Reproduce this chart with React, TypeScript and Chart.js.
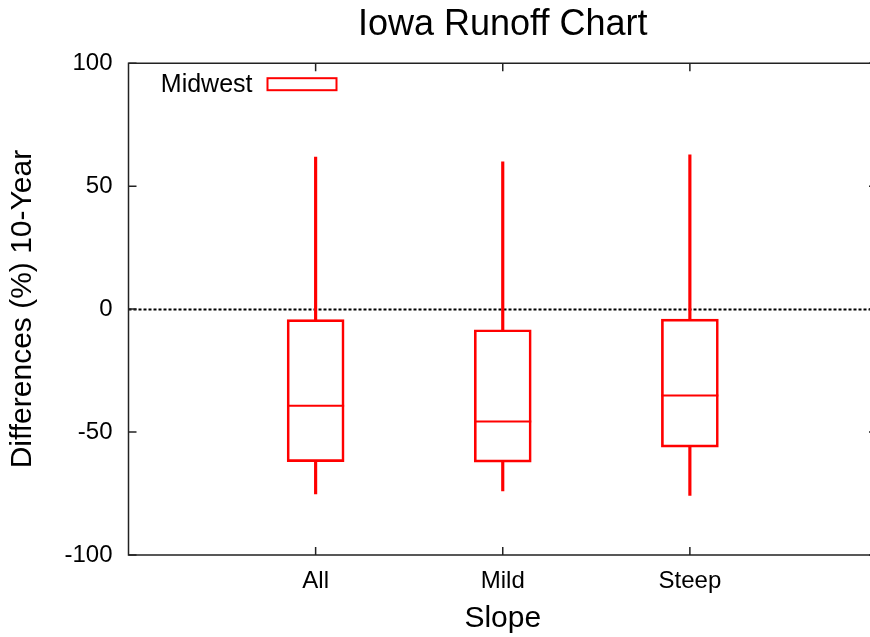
import React, { useEffect, useRef } from "react";
import { Chart, registerables } from "chart.js";

Chart.register(...registerables);

const TITLE = "Iowa Runoff Chart";
const X_TITLE = "Slope";
const Y_TITLE = "Differences (%) 10-Year";
const SERIES_NAME = "Midwest";
const CATEGORIES = ["All", "Mild", "Steep"];
const POSITIONS = [1, 2, 3];
const WHISKER_MIN = [-75.2, -73.9, -75.8];
const Q1 = [-62.0, -62.2, -56.1];
const MEDIAN = [-39.3, -45.7, -35.1];
const Q3 = [-4.3, -8.4, -4.1];
const WHISKER_MAX = [61.8, 59.9, 62.7];
const Y_MIN = -100;
const Y_MAX = 100;
const Y_STEP = 50;
const X_MIN = 0;
const X_MAX = 4;
const REFERENCE_LINE = 0;

const RED = "#ff0000";
const FONT = "'Liberation Sans', Arial, Helvetica, sans-serif";

const boxPlugin = {
  id: "boxExtras",
  beforeDatasetsDraw(chart: any) {
    const { ctx, chartArea, scales } = chart;
    const y = Math.round(scales.y.getPixelForValue(REFERENCE_LINE)) + 0.5;
    ctx.save();
    ctx.strokeStyle = "#000";
    ctx.lineWidth = 2;
    ctx.setLineDash([3, 2]);
    ctx.beginPath();
    ctx.moveTo(chartArea.left, y);
    ctx.lineTo(chartArea.right, y);
    ctx.stroke();
    ctx.restore();
  },
  afterDatasetsDraw(chart: any) {
    const { ctx, scales } = chart;
    const boxMeta = chart.getDatasetMeta(2);
    ctx.save();
    ctx.strokeStyle = RED;
    ctx.lineWidth = 2;
    MEDIAN.forEach((m, i) => {
      const el = boxMeta.data[i];
      const w = el ? el.width : 56;
      const cx = scales.x.getPixelForValue(POSITIONS[i]);
      const py = scales.y.getPixelForValue(m);
      ctx.beginPath();
      ctx.moveTo(cx - w / 2, py);
      ctx.lineTo(cx + w / 2, py);
      ctx.stroke();
    });
    ctx.restore();
  },
  afterDraw(chart: any) {
    const { ctx, chartArea, scales } = chart;
    const { left, right, top, bottom } = chartArea;
    ctx.save();
    ctx.strokeStyle = "#222";
    ctx.lineWidth = 1.5;
    ctx.beginPath();
    ctx.rect(left, top, right - left, bottom - top);
    ctx.stroke();
    // inward ticks
    const tl = 8;
    ctx.beginPath();
    scales.y.ticks.forEach((t: any) => {
      const py = scales.y.getPixelForValue(t.value);
      ctx.moveTo(left, py);
      ctx.lineTo(left + tl, py);
      ctx.moveTo(right, py);
      ctx.lineTo(right - tl, py);
    });
    POSITIONS.forEach((p) => {
      const px = scales.x.getPixelForValue(p);
      ctx.moveTo(px, bottom);
      ctx.lineTo(px, bottom - tl);
      ctx.moveTo(px, top);
      ctx.lineTo(px, top + tl);
    });
    ctx.stroke();

    // legend
    ctx.font = `25px ${FONT}`;
    ctx.fillStyle = "#000";
    ctx.textAlign = "right";
    ctx.textBaseline = "middle";
    ctx.fillText(SERIES_NAME, left + 124, top + 22);
    ctx.strokeStyle = RED;
    ctx.lineWidth = 2;
    ctx.strokeRect(left + 139, top + 15, 69, 12);
    ctx.restore();
  },
};

export default function App() {
  const ref = useRef<HTMLCanvasElement | null>(null);

  useEffect(() => {
    const canvas = ref.current;
    if (!canvas) return;
    const chart = new Chart(canvas, {
      type: "bar",
      data: {
        datasets: [
          {
            label: "upper whisker",
            data: POSITIONS.map((x, i) => ({ x, y: [Q3[i], WHISKER_MAX[i]] })) as any,
            backgroundColor: RED,
            borderWidth: 0,
            barThickness: 2.5,
            grouped: false,
          } as any,
          {
            label: "lower whisker",
            data: POSITIONS.map((x, i) => ({ x, y: [WHISKER_MIN[i], Q1[i]] })) as any,
            backgroundColor: RED,
            borderWidth: 0,
            barThickness: 2.5,
            grouped: false,
          } as any,
          {
            label: SERIES_NAME,
            data: POSITIONS.map((x, i) => ({ x, y: [Q1[i], Q3[i]] })) as any,
            backgroundColor: "rgba(0,0,0,0)",
            borderColor: RED,
            borderWidth: 2,
            borderSkipped: false,
            barThickness: 57,
            grouped: false,
          } as any,
        ],
      },
      options: {
        animation: false,
        responsive: false,
        devicePixelRatio: 1,
        layout: { padding: { left: 0, right: 4, top: 0, bottom: 0 } },
        plugins: {
          legend: { display: false },
          tooltip: { enabled: false },
          title: {
            display: true,
            text: TITLE,
            fullSize: false,
            color: "#000",
            font: { family: FONT, size: 36, weight: "normal" },
            padding: { top: 3, bottom: 17 },
          },
        },
        scales: {
          x: {
            type: "linear",
            min: X_MIN,
            max: X_MAX,
            offset: false,
            grid: { display: false, drawTicks: false, offset: false },
            border: { display: false },
            ticks: {
              stepSize: 1,
              autoSkip: false,
              maxRotation: 0,
              padding: 12,
              color: "#000",
              font: { family: FONT, size: 24 },
              callback: (v: any) => {
                const i = POSITIONS.indexOf(Number(v));
                return i >= 0 ? CATEGORIES[i] : "";
              },
            },
            title: {
              display: true,
              text: X_TITLE,
              color: "#000",
              font: { family: FONT, size: 30 },
              padding: { top: 2, bottom: 0 },
            },
            afterFit: (s: any) => {
              s.height = 82;
            },
          },
          y: {
            min: Y_MIN,
            max: Y_MAX,
            grid: { display: false, drawTicks: false },
            border: { display: false },
            ticks: {
              stepSize: Y_STEP,
              padding: 16,
              color: "#000",
              font: { family: FONT, size: 24 },
            },
            title: {
              display: true,
              text: Y_TITLE,
              color: "#000",
              font: { family: FONT, size: 30 },
              padding: { top: 4.5, bottom: 0 },
            },
            afterFit: (s: any) => {
              s.width = 128.5;
            },
          },
        },
      } as any,
      plugins: [boxPlugin],
    });
    return () => chart.destroy();
  }, []);

  return (
    <div
      style={{
        position: "fixed",
        left: 0,
        top: 0,
        width: 870,
        height: 637,
        overflow: "hidden",
        background: "#fff",
      }}
    >
      <canvas
        ref={ref}
        width={889}
        height={637}
        style={{ display: "block", width: 889, height: 637 }}
      />
    </div>
  );
}
